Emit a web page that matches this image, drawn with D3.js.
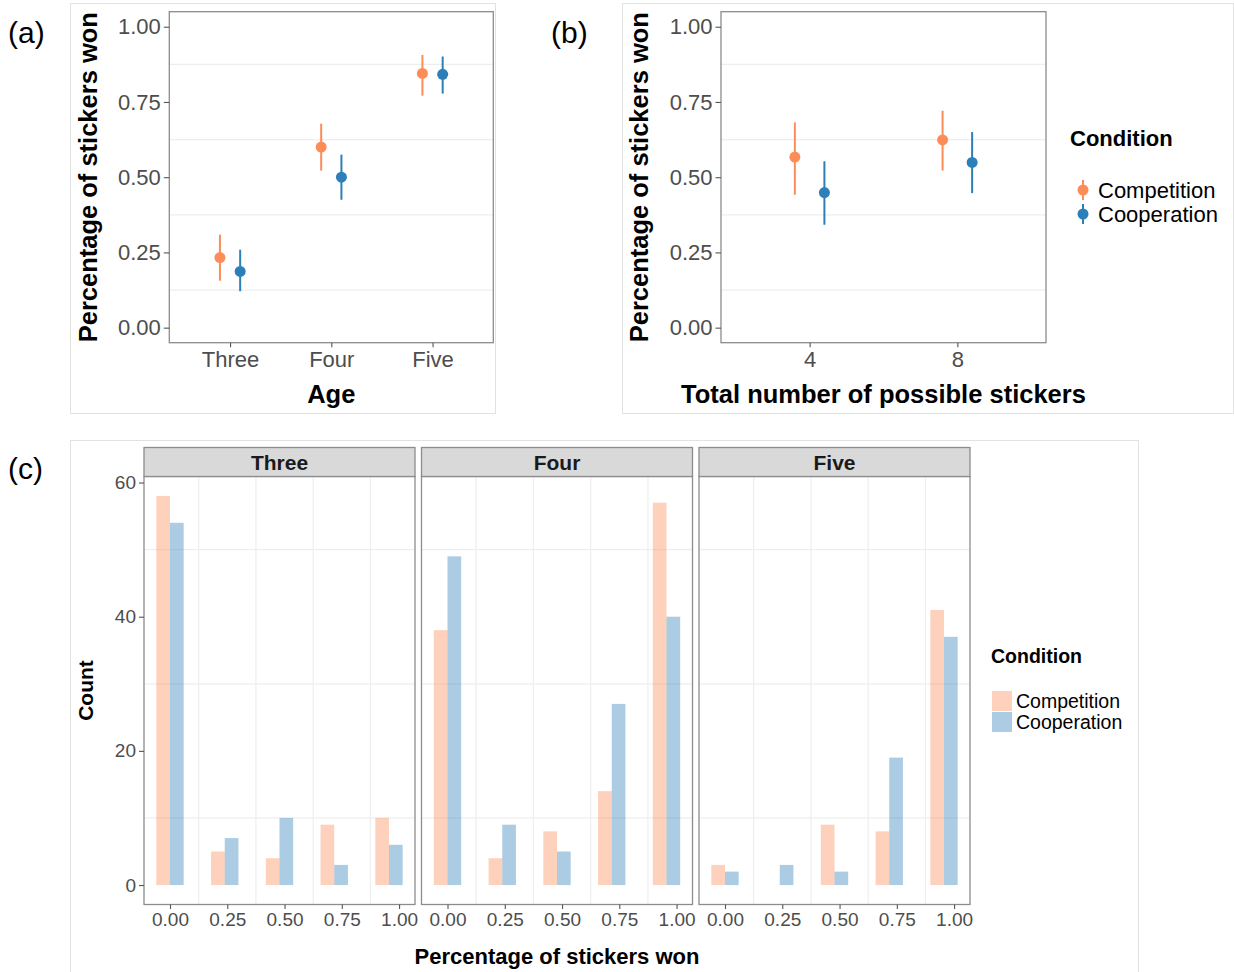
<!DOCTYPE html>
<html>
<head>
<meta charset="utf-8">
<script src="https://cdn.jsdelivr.net/npm/d3@7"></script>
<style>
  body { margin: 0; background: #fff; }
  svg { font-family: "Liberation Sans", Arial, sans-serif; }
</style>
</head>
<body>
<svg id="chart" width="1234" height="972"></svg>
<script>
// ---- data ----
const conditions = ['Competition', 'Cooperation'];
const ageGroups = ['Three', 'Four', 'Five'];

// (a) mean share of stickers won by age, with intervals
const ageCompMean = [0.233, 0.600, 0.845];
const ageCompLow = [0.156, 0.522, 0.771];
const ageCompHigh = [0.309, 0.678, 0.906];
const ageCoopMean = [0.187, 0.500, 0.842];
const ageCoopLow = [0.121, 0.425, 0.778];
const ageCoopHigh = [0.259, 0.575, 0.901];

// (b) by total number of possible stickers
const stickerTotals = [4, 8];
const totCompMean = [0.567, 0.624];
const totCompLow = [0.442, 0.522];
const totCompHigh = [0.682, 0.721];
const totCoopMean = [0.449, 0.549];
const totCoopLow = [0.342, 0.447];
const totCoopHigh = [0.553, 0.650];

const pctTicks = [0, 0.25, 0.5, 0.75, 1];

// (c) histogram counts per age facet
const proportions = [0, 0.25, 0.5, 0.75, 1];
const threeComp = [58, 5, 4, 9, 10];
const threeCoop = [54, 7, 10, 3, 6];
const fourComp = [38, 4, 8, 14, 57];
const fourCoop = [49, 9, 5, 27, 40];
const fiveComp = [3, 0, 9, 8, 41];
const fiveCoop = [2, 3, 2, 19, 37];
const countTicks = [0, 20, 40, 60];

const COLORS = { Competition: '#fc8d59', Cooperation: '#2c7fb8' };
const TICK_COL = '#4d4d4d';
const BORDER_COL = '#8c8c8c';
const GRID_COL = '#eeeeee';

const svg = d3.select('#chart');

svg.append('rect').attr('width', 1234).attr('height', 972).attr('fill', '#fff');

// light frames round each sub figure
[[70.5, 3.5, 425, 410], [622.5, 3.5, 611, 410], [70.5, 440.5, 1068, 540]].forEach(f => {
  svg.append('rect')
    .attr('x', f[0]).attr('y', f[1]).attr('width', f[2]).attr('height', f[3])
    .attr('fill', 'none').attr('stroke', '#e2e2e2').attr('stroke-width', 1);
});

// sub figure letters
[['(a)', 8, 43], ['(b)', 551, 43], ['(c)', 8, 479]].forEach(l => {
  svg.append('text').attr('x', l[1]).attr('y', l[2])
    .style('font-size', '30px').attr('fill', '#000').text(l[0]);
});

function styleAxis(g, size) {
  g.select('.domain').remove();
  g.selectAll('.tick line').attr('stroke', '#555').attr('stroke-width', 1.1);
  g.selectAll('.tick text').attr('fill', TICK_COL).style('font-size', size + 'px');
}

function rotatedTitle(x, y, text, size) {
  svg.append('text')
    .attr('transform', `translate(${x},${y}) rotate(-90)`)
    .attr('text-anchor', 'middle')
    .style('font-size', size + 'px').style('font-weight', 'bold')
    .text(text);
}

// ---------- point + interval panels (a) and (b) ----------
const pTop = 11.7, pBottom = 342.7;
const yPct = d3.scaleLinear().domain([-0.05, 1.05]).range([pBottom, pTop]);

function pointPanel(opts) {
  const { left, right, xScale, xAxis, xVals, offset, series, yTitleX, xTitle } = opts;
  const g = svg.append('g');

  g.append('rect').attr('x', left).attr('y', pTop)
    .attr('width', right - left).attr('height', pBottom - pTop).attr('fill', '#fff');

  g.selectAll('.grid').data([0.125, 0.375, 0.625, 0.875]).enter()
    .append('line')
    .attr('x1', left).attr('x2', right)
    .attr('y1', d => yPct(d)).attr('y2', d => yPct(d))
    .attr('stroke', GRID_COL).attr('stroke-width', 1.2);

  series.forEach((s, si) => {
    const dx = si === 0 ? -offset : offset;
    const pts = xVals.map((v, i) => ({ x: xScale(v) + dx, m: s.mean[i], lo: s.low[i], hi: s.high[i] }));
    g.selectAll(null).data(pts).enter().append('line')
      .attr('x1', d => d.x).attr('x2', d => d.x)
      .attr('y1', d => yPct(d.lo)).attr('y2', d => yPct(d.hi))
      .attr('stroke', COLORS[s.name]).attr('stroke-width', 2);
    g.selectAll(null).data(pts).enter().append('circle')
      .attr('cx', d => d.x).attr('cy', d => yPct(d.m)).attr('r', 5.5)
      .attr('fill', COLORS[s.name]);
  });

  g.append('rect').attr('x', left).attr('y', pTop)
    .attr('width', right - left).attr('height', pBottom - pTop)
    .attr('fill', 'none').attr('stroke', BORDER_COL).attr('stroke-width', 1.3);

  const ya = svg.append('g').attr('transform', `translate(${left},0)`)
    .call(d3.axisLeft(yPct).tickValues(pctTicks).tickFormat(d3.format('.2f')).tickSize(5.5).tickPadding(3));
  styleAxis(ya, 22);

  const xa = svg.append('g').attr('transform', `translate(0,${pBottom})`).call(xAxis);
  styleAxis(xa, 22);

  rotatedTitle(yTitleX, (pTop + pBottom) / 2, 'Percentage of stickers won', 25.5);

  svg.append('text').attr('x', (left + right) / 2).attr('y', 403)
    .attr('text-anchor', 'middle')
    .style('font-size', '25.5px').style('font-weight', 'bold')
    .text(xTitle);
}

// (a)
const xAge = d3.scalePoint().domain(ageGroups).range([169.3, 493.3]).padding(0.6);
pointPanel({
  left: 169.3, right: 493.3,
  xScale: xAge,
  xAxis: d3.axisBottom(xAge).tickSize(4.5).tickPadding(4),
  xVals: ageGroups,
  offset: xAge.step() * 0.1,
  series: [
    { name: 'Competition', mean: ageCompMean, low: ageCompLow, high: ageCompHigh },
    { name: 'Cooperation', mean: ageCoopMean, low: ageCoopLow, high: ageCoopHigh }
  ],
  yTitleX: 97,
  xTitle: 'Age'
});

// (b)
const xTot = d3.scaleLinear().domain([1.6, 10.4]).range([721, 1046]);
pointPanel({
  left: 721, right: 1046,
  xScale: xTot,
  xAxis: d3.axisBottom(xTot).tickValues(stickerTotals).tickFormat(d3.format('d')).tickSize(4.5).tickPadding(4),
  xVals: stickerTotals,
  offset: xTot(0.4) - xTot(0),
  series: [
    { name: 'Competition', mean: totCompMean, low: totCompLow, high: totCompHigh },
    { name: 'Cooperation', mean: totCoopMean, low: totCoopLow, high: totCoopHigh }
  ],
  yTitleX: 648,
  xTitle: 'Total number of possible stickers'
});

// legend for (b)
svg.append('text').attr('x', 1070).attr('y', 146)
  .style('font-size', '22px').style('font-weight', 'bold').text('Condition');
conditions.forEach((c, i) => {
  const cy = 190 + i * 24;
  svg.append('line').attr('x1', 1083).attr('x2', 1083).attr('y1', cy - 10).attr('y2', cy + 10)
    .attr('stroke', COLORS[c]).attr('stroke-width', 2);
  svg.append('circle').attr('cx', 1083).attr('cy', cy).attr('r', 5.5).attr('fill', COLORS[c]);
  svg.append('text').attr('x', 1098).attr('y', cy + 8)
    .style('font-size', '22px').attr('fill', '#000').text(c);
});

// ---------- (c) faceted histograms ----------
const hTop = 476.5, hBottom = 904.5, stripTop = 447.5;
const binWidth = 0.1195;
const facetLeft = 144, facetWidth = 271, facetGap = 6.5;
const facets = [
  { name: 'Three', comp: threeComp, coop: threeCoop },
  { name: 'Four', comp: fourComp, coop: fourCoop },
  { name: 'Five', comp: fiveComp, coop: fiveCoop }
];

const binCenter = p => Math.round(p / binWidth) * binWidth;
const maxCount = d3.max(facets, f => d3.max(f.comp.concat(f.coop)));
const yCount = d3.scaleLinear().domain([-0.05 * maxCount, 1.05 * maxCount]).range([hBottom, hTop]);
const xLo = -binWidth / 2, xHi = binCenter(1) + binWidth / 2;
const xPad = (xHi - xLo) * 0.05;

facets.forEach((f, fi) => {
  const left = facetLeft + fi * (facetWidth + facetGap);
  const right = left + facetWidth;
  const xs = d3.scaleLinear().domain([xLo - xPad, xHi + xPad]).range([left, right]);
  const g = svg.append('g');

  g.selectAll(null).data([0.125, 0.375, 0.625, 0.875]).enter().append('line')
    .attr('x1', d => xs(d)).attr('x2', d => xs(d)).attr('y1', hTop).attr('y2', hBottom)
    .attr('stroke', GRID_COL).attr('stroke-width', 1.2);
  g.selectAll(null).data([10, 30, 50]).enter().append('line')
    .attr('x1', left).attr('x2', right).attr('y1', d => yCount(d)).attr('y2', d => yCount(d))
    .attr('stroke', GRID_COL).attr('stroke-width', 1.2);

  const bars = [];
  proportions.forEach((p, i) => {
    const c = binCenter(p);
    bars.push({ x0: c - binWidth / 2, x1: c, n: f.comp[i], cond: 'Competition' });
    bars.push({ x0: c, x1: c + binWidth / 2, n: f.coop[i], cond: 'Cooperation' });
  });
  g.selectAll(null).data(bars.filter(b => b.n > 0)).enter().append('rect')
    .attr('x', d => xs(d.x0)).attr('width', d => xs(d.x1) - xs(d.x0))
    .attr('y', d => yCount(d.n)).attr('height', d => yCount(0) - yCount(d.n))
    .attr('fill', d => COLORS[d.cond]).attr('fill-opacity', 0.4);

  g.append('rect').attr('x', left).attr('y', hTop).attr('width', facetWidth).attr('height', hBottom - hTop)
    .attr('fill', 'none').attr('stroke', BORDER_COL).attr('stroke-width', 1.3);

  // strip
  g.append('rect').attr('x', left).attr('y', stripTop).attr('width', facetWidth).attr('height', hTop - stripTop)
    .attr('fill', '#d9d9d9').attr('stroke', BORDER_COL).attr('stroke-width', 1.3);
  g.append('text').attr('x', (left + right) / 2).attr('y', 470)
    .attr('text-anchor', 'middle').style('font-size', '21px').style('font-weight', 'bold')
    .attr('fill', '#1a1a1a').text(f.name);

  const xa = svg.append('g').attr('transform', `translate(0,${hBottom})`)
    .call(d3.axisBottom(xs).tickValues(pctTicks).tickFormat(d3.format('.2f')).tickSize(4.5).tickPadding(4));
  styleAxis(xa, 19);

  if (fi === 0) {
    const ya = svg.append('g').attr('transform', `translate(${left},0)`)
      .call(d3.axisLeft(yCount).tickValues(countTicks).tickSize(5).tickPadding(3));
    styleAxis(ya, 19);
  }
});

rotatedTitle(93, (hTop + hBottom) / 2, 'Count', 21);
svg.append('text').attr('x', (facetLeft + facetLeft + 3 * facetWidth + 2 * facetGap) / 2).attr('y', 964)
  .attr('text-anchor', 'middle').style('font-size', '22px').style('font-weight', 'bold')
  .text('Percentage of stickers won');

// legend for (c)
svg.append('text').attr('x', 991).attr('y', 663)
  .style('font-size', '19.5px').style('font-weight', 'bold').text('Condition');
conditions.forEach((c, i) => {
  const ky = 691 + i * 21;
  svg.append('rect').attr('x', 992).attr('y', ky).attr('width', 20).attr('height', 20)
    .attr('fill', COLORS[c]).attr('fill-opacity', 0.4);
  svg.append('text').attr('x', 1016).attr('y', ky + 17)
    .style('font-size', '19.5px').attr('fill', '#000').text(c);
});
</script>
</body>
</html>
